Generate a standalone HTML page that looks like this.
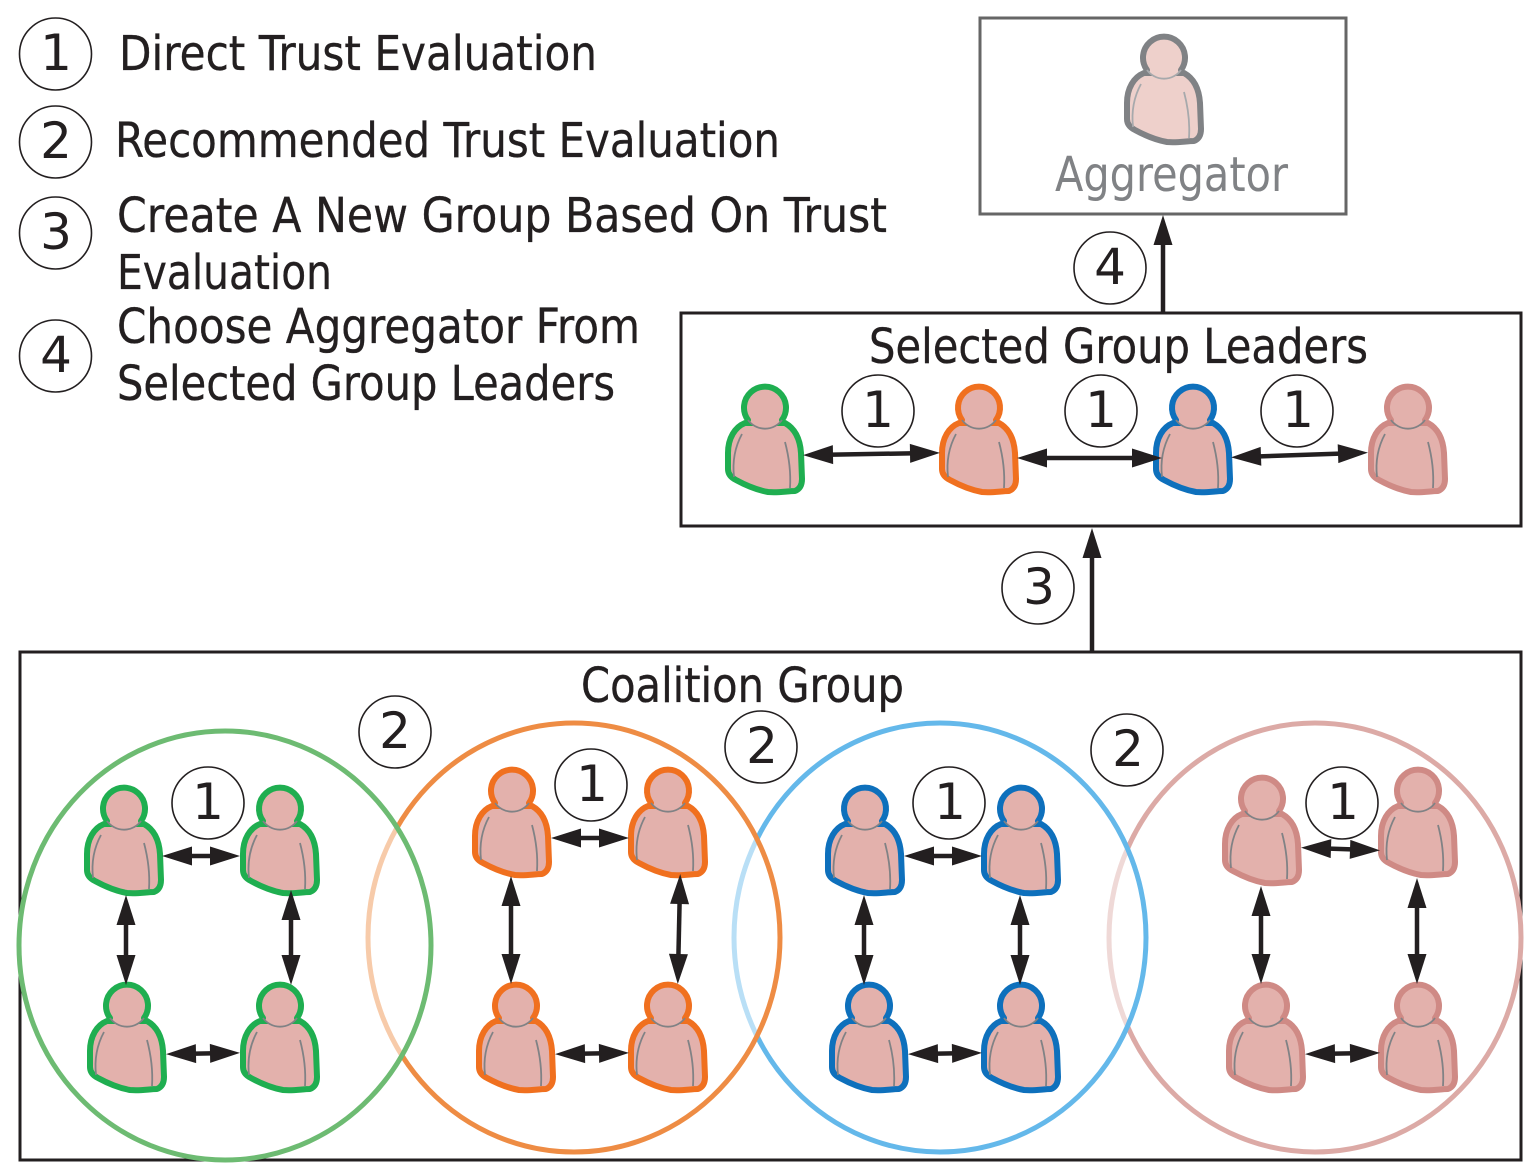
<!DOCTYPE html>
<html lang="en">
<head>
<meta charset="utf-8">
<title>Trust Evaluation Diagram</title>
<style>
html,body{margin:0;padding:0;background:#fff}
svg{display:block}
text{font-family:"DejaVu Sans","Liberation Sans",sans-serif;fill:#231f20;font-size:48px}
.t{stroke:#231f20;stroke-width:.35}
.n{font-size:50px;text-anchor:middle}
.nc{fill:#fff;stroke:#231f20;stroke-width:1.6}
.a{stroke:#231f20;stroke-width:4.5;fill:none;marker-start:url(#h);marker-end:url(#h)}
.s{stroke:#231f20;stroke-width:4.5;fill:none;marker-end:url(#h)}
.g{--c:#1fae50;--f:#e3b1ac;--l:#808285}
.o{--c:#f0701f;--f:#e3b1ac;--l:#808285}
.b{--c:#0e70bc;--f:#e3b1ac;--l:#808285}
.p{--c:#cf8a85;--f:#e3b1ac;--l:#808285}
.x{--c:#808285;--f:#eed0cb;--l:#a7a9ac}
.body{fill:var(--f);stroke:var(--c);stroke-width:6;stroke-linejoin:round}
.head{fill:var(--f);stroke:none}
.ring{fill:none;stroke:var(--c);stroke-width:6;stroke-linecap:round}
.in{fill:none;stroke:var(--l);stroke-width:1.8}
</style>
</head>
<body>
<svg width="1528" height="1172" viewBox="0 0 1528 1172" xmlns="http://www.w3.org/2000/svg">
<defs>
<marker id="h" markerUnits="userSpaceOnUse" markerWidth="30" markerHeight="20" refX="20" refY="10" orient="auto-start-reverse" overflow="visible">
<path d="M0 .5L30 10L0 19.5z" fill="#231f20"/>
</marker>
<symbol id="u" x="-45" y="-30" width="90" height="125" viewBox="-45 -30 90 125" overflow="visible">
<path class="body" d="M-20 16C-30 20-37 31-37 46L-37 62C-37 68-33 71-29 73C-18 79-8 83 3 85C14 86 22 84 30 84C35 82 37 78 37 72L36 46C35 31 29 21 20 16Z"/>
<circle class="head" cx="0" cy="0" r="21"/>
<path class="ring" d="M-17 13A21 21 0 1 1 17 13"/>
<path class="in" d="M-17 13A21 21 0 0 0 17 13"/>
<path class="in" d="M-23 27C-29 38-33 52-31 70"/>
<path class="in" d="M20 35C24 50 26 65 25 81"/>
</symbol>
</defs>

<rect x="20" y="652" width="1501" height="508" fill="#fff" stroke="#231f20" stroke-width="3"/>
<rect x="681" y="313" width="840" height="213" fill="#fff" stroke="#231f20" stroke-width="3"/>
<rect x="980" y="18" width="366" height="196" fill="#fff" stroke="#666" stroke-width="3"/>

<g stroke-width="5">
<ellipse cx="1315" cy="937.5" rx="206" ry="214.5" fill="#fff" fill-opacity=".55" stroke="#dcaaa6"/>
<ellipse cx="940" cy="937.5" rx="206" ry="214.5" fill="#fff" fill-opacity=".55" stroke="#64b8ea"/>
<ellipse cx="574" cy="937.5" rx="206" ry="214.5" fill="#fff" fill-opacity=".55" stroke="#ee8c44"/>
<ellipse cx="225" cy="945.5" rx="206" ry="214.5" fill="#fff" fill-opacity=".55" stroke="#6dbb72"/>
</g>

<!-- legend -->
<g>
<circle class="nc" cx="55.5" cy="54" r="36"/><text class="n" x="56" y="70">1</text>
<circle class="nc" cx="55.5" cy="142" r="36"/><text class="n" x="56" y="158">2</text>
<circle class="nc" cx="55.5" cy="233" r="36"/><text class="n" x="56" y="249">3</text>
<circle class="nc" cx="55.5" cy="356" r="36"/><text class="n" x="56" y="372">4</text>
</g>
<text class="t" x="119" y="70" textLength="478" lengthAdjust="spacingAndGlyphs">Direct Trust Evaluation</text>
<text class="t" x="115" y="157" textLength="665" lengthAdjust="spacingAndGlyphs">Recommended Trust Evaluation</text>
<text class="t" x="117" y="232" textLength="770" lengthAdjust="spacingAndGlyphs">Create A New Group Based On Trust</text>
<text class="t" x="117" y="289" textLength="215" lengthAdjust="spacingAndGlyphs">Evaluation</text>
<text class="t" x="117" y="343" textLength="523" lengthAdjust="spacingAndGlyphs">Choose Aggregator From</text>
<text class="t" x="117" y="400" textLength="498" lengthAdjust="spacingAndGlyphs">Selected Group Leaders</text>

<text x="1055" y="191" textLength="233" lengthAdjust="spacingAndGlyphs" style="fill:#808285">Aggregator</text>
<text class="t" x="869" y="363" textLength="499" lengthAdjust="spacingAndGlyphs">Selected Group Leaders</text>
<text class="t" x="581" y="702" textLength="323" lengthAdjust="spacingAndGlyphs">Coalition Group</text>

<!-- people -->
<g class="x"><use href="#u" x="1164" y="57"/></g>
<g class="g"><use href="#u" x="765" y="407"/></g>
<g class="o"><use href="#u" x="979" y="407"/></g>
<g class="b"><use href="#u" x="1193" y="407"/></g>
<g class="p"><use href="#u" x="1408" y="407"/></g>

<g class="g"><use href="#u" x="124" y="808"/><use href="#u" x="280" y="808"/><use href="#u" x="127" y="1005"/><use href="#u" x="280" y="1005"/></g>
<g class="o"><use href="#u" x="512" y="790"/><use href="#u" x="668" y="790"/><use href="#u" x="516" y="1005"/><use href="#u" x="668" y="1005"/></g>
<g class="b"><use href="#u" x="865" y="808"/><use href="#u" x="1021" y="808"/><use href="#u" x="869" y="1005"/><use href="#u" x="1021" y="1005"/></g>
<g class="p"><use href="#u" x="1262" y="798"/><use href="#u" x="1418" y="790"/><use href="#u" x="1266" y="1005"/><use href="#u" x="1418" y="1005"/></g>

<!-- arrows -->
<line class="s" x1="1163" y1="313" x2="1163" y2="225"/>
<line class="s" x1="1092" y1="652" x2="1092" y2="538"/>

<line class="a" x1="813" y1="455" x2="930" y2="453"/>
<line class="a" x1="1027" y1="458" x2="1152" y2="458"/>
<line class="a" x1="1241" y1="457" x2="1358" y2="453"/>

<line class="a" x1="172" y1="856" x2="230" y2="856"/>
<line class="a" x1="126" y1="905" x2="126" y2="975"/>
<line class="a" x1="291" y1="900" x2="291" y2="975"/>
<line class="a" x1="176" y1="1054" x2="230" y2="1053"/>

<line class="a" x1="561" y1="838" x2="619" y2="838"/>
<line class="a" x1="511" y1="886" x2="511" y2="974"/>
<line class="a" x1="680" y1="884" x2="678" y2="974"/>
<line class="a" x1="565" y1="1054" x2="619" y2="1053"/>

<line class="a" x1="914" y1="856" x2="972" y2="856"/>
<line class="a" x1="864" y1="905" x2="864" y2="975"/>
<line class="a" x1="1020" y1="905" x2="1020" y2="975"/>
<line class="a" x1="918" y1="1054" x2="972" y2="1053"/>

<line class="a" x1="1311" y1="848" x2="1370" y2="850"/>
<line class="a" x1="1261" y1="896" x2="1261" y2="974"/>
<line class="a" x1="1417" y1="888" x2="1417" y2="974"/>
<line class="a" x1="1315" y1="1054" x2="1370" y2="1053"/>

<!-- number badges -->
<circle class="nc" cx="1110" cy="268" r="36"/><text class="n" x="1110" y="284">4</text>
<circle class="nc" cx="878" cy="411" r="36"/><text class="n" x="878" y="427">1</text>
<circle class="nc" cx="1101" cy="411" r="36"/><text class="n" x="1101" y="427">1</text>
<circle class="nc" cx="1297" cy="411" r="36"/><text class="n" x="1298" y="427">1</text>
<circle class="nc" cx="1038" cy="588" r="36"/><text class="n" x="1039" y="604">3</text>
<circle class="nc" cx="395" cy="732" r="36"/><text class="n" x="395" y="748">2</text>
<circle class="nc" cx="761" cy="747" r="36"/><text class="n" x="762" y="763">2</text>
<circle class="nc" cx="1127" cy="750" r="36"/><text class="n" x="1128" y="766">2</text>
<circle class="nc" cx="208" cy="803" r="36"/><text class="n" x="208" y="819">1</text>
<circle class="nc" cx="591" cy="785" r="36"/><text class="n" x="592" y="801">1</text>
<circle class="nc" cx="949" cy="803" r="36"/><text class="n" x="950" y="819">1</text>
<circle class="nc" cx="1342" cy="803" r="36"/><text class="n" x="1343" y="819">1</text>
</svg>
</body>
</html>
